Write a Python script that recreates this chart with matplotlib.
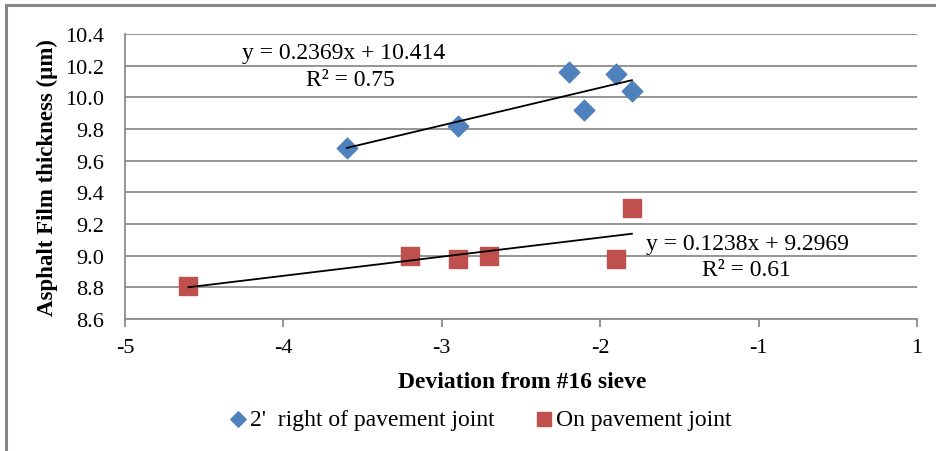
import numpy as np
import matplotlib
matplotlib.use("Agg")
import matplotlib.pyplot as plt
from matplotlib.patches import Rectangle

# Data
x_right = [-3.6, -2.9, -2.2, -2.1, -1.9, -1.8]
y_right = [9.68, 9.82, 10.16, 9.92, 10.15, 10.04]
x_joint = [-4.6, -3.2, -2.9, -2.7, -1.9, -1.8]
y_joint = [8.81, 9.00, 8.98, 9.00, 8.98, 9.30]
series_names = ["2'  right of pavement joint", "On pavement joint"]
x_ticks = [-5, -4, -3, -2, -1, 0]
x_tick_labels = ["-5", "-4", "-3", "-2", "-1", "1"]
y_ticks = [8.6, 8.8, 9.0, 9.2, 9.4, 9.6, 9.8, 10.0, 10.2, 10.4]
eq_right = ["y = 0.2369x + 10.414", "R\u00b2 = 0.75"]
eq_joint = ["y = 0.1238x + 9.2969", "R\u00b2 = 0.61"]

plt.rcParams['font.family'] = ['Liberation Serif', 'DejaVu Serif']

W, H = 936, 452
fig = plt.figure(figsize=(W / 100, H / 100), dpi=100)
ax = fig.add_axes([125 / W, 1 - 320 / H, (917 - 125) / W, (320 - 35) / H])

# outer border
fig.patches.append(Rectangle((6 / W, -0.1), 1.2, 1 - 6 / H + 0.1, transform=fig.transFigure,
                             fill=False, edgecolor='#878787', linewidth=2.2))

blue = '#4F81BD'
red = '#C0504D'
ax.scatter(x_right, y_right, marker='D', s=110, color=blue, zorder=3, label=series_names[0])
ax.scatter(x_joint, y_joint, marker='s', s=170, color=red, zorder=3, label=series_names[1])

for xs, ys in [(x_right, y_right), (x_joint, y_joint)]:
    m, b = np.polyfit(xs, ys, 1)
    xx = np.array([min(xs), max(xs)])
    ax.plot(xx, m * xx + b, color='black', lw=1.3, zorder=4)

ax.set_xlim(-5, 0)
ax.set_ylim(8.6, 10.4)
ax.set_xticks(x_ticks)
ax.set_xticklabels(x_tick_labels)
ax.set_yticks(y_ticks)
ax.set_yticklabels([f"{v:.1f}" for v in y_ticks])
ax.yaxis.grid(True, color='#8c8c8c', lw=1.3)
ax.set_axisbelow(True)
for s in ['top', 'right']:
    ax.spines[s].set_visible(False)
for s in ['left', 'bottom']:
    ax.spines[s].set_color('#8c8c8c')
    ax.spines[s].set_linewidth(1.3)
ax.tick_params(axis='x', direction='out', length=6, color='#8c8c8c', width=1.3, labelsize=16, pad=8)
ax.tick_params(axis='y', length=0, labelsize=16, pad=15)

ax.set_xlabel("Deviation from #16 sieve", fontsize=17, fontweight='bold')
ax.xaxis.set_label_coords(522 / W, 1 - 372 / H, transform=fig.transFigure)
ax.set_ylabel("Asphalt Film thickness (\u00b5m)", fontsize=16.5, fontweight='bold')
ax.yaxis.set_label_coords(58 / W, 1 - 178 / H, transform=fig.transFigure)

ax.text(344 / W, 1 - 54 / H, eq_right[0], transform=fig.transFigure, ha='center', va='center', fontsize=17)
ax.text(350 / W, 1 - 80 / H, eq_right[1], transform=fig.transFigure, ha='center', va='center', fontsize=17)
ax.text(747 / W, 1 - 245 / H, eq_joint[0], transform=fig.transFigure, ha='center', va='center', fontsize=17)
ax.text(746 / W, 1 - 271 / H, eq_joint[1], transform=fig.transFigure, ha='center', va='center', fontsize=17)

handles, labels = ax.get_legend_handles_labels()
leg = fig.legend(handles, labels, loc='center', bbox_to_anchor=(479 / W, 1 - 420 / H), ncol=2,
                 frameon=False, fontsize=17, handletextpad=0.0, columnspacing=1.6,
                 markerscale=0.75, handlelength=1.0)

fig.savefig("out.png", dpi=100)
